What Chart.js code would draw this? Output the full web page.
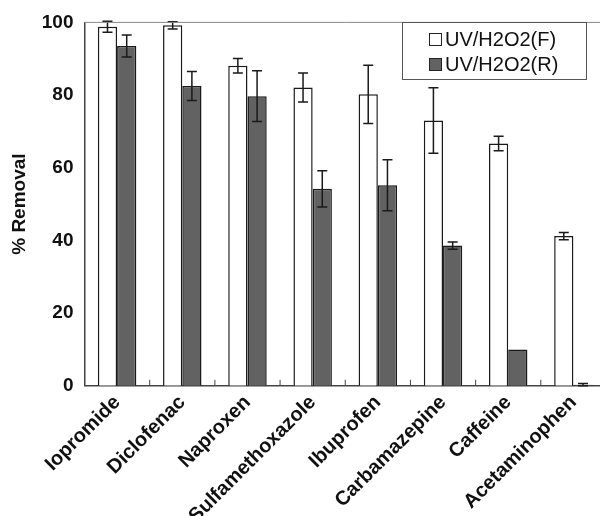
<!DOCTYPE html>
<html lang="en">
<head>
    <meta charset="UTF-8">
    <script src="https://cdn.jsdelivr.net/npm/chart.js"></script>
    <title>% Removal by UV/H2O2</title>
    <style>
        *{
            margin: 0;
            padding: 0;
        }
        body, html{
            width: 600px;
            height: 516px;
            background-color: white;
            overflow: hidden;
        }
        #wrap{
            width: 606px;
            height: 533px;
        }
    </style>
</head>
<body>
    <div id="wrap"><canvas id="chart"></canvas></div>
    <script>
        const compounds = ["Iopromide", "Diclofenac", "Naproxen", "Sulfamethoxazole", "Ibuprofen", "Carbamazepine", "Caffeine", "Acetaminophen"]
        const removalF = [98.8, 99.2, 88.1, 82.1, 80.2, 73.0, 66.7, 41.2]
        const errF = [1.5, 1.0, 2.0, 4.0, 8.0, 9.0, 2.0, 1.0]
        const removalR = [93.5, 82.5, 79.7, 54.2, 55.2, 38.6, 10.0, 0.3]
        const errR = [3.0, 4.0, 7.0, 5.0, 7.0, 1.0, 0, 0.3]
        const yTicks = [0, 20, 40, 60, 80, 100]

        const fontFam = "'Liberation Sans', Arial, sans-serif"

        // error bars, inward category ticks, top frame line and boxed legend
        const extras = {
            id: "extras",
            afterDatasetsDraw(chart){
                const ctx = chart.ctx
                const x = chart.scales.x
                const y = chart.scales.y
                const area = chart.chartArea
                ctx.save()
                ctx.strokeStyle = "#1a1a1a"
                ctx.lineWidth = 1.5
                const errs = [errF, errR]
                chart.data.datasets.forEach((ds, di)=>{
                    const meta = chart.getDatasetMeta(di)
                    meta.data.forEach((bar, i)=>{
                        const e = errs[di][i]
                        if (!e) return
                        const v = ds.data[i]
                        const top = y.getPixelForValue(v + e)
                        const bot = y.getPixelForValue(v - e)
                        const cx = bar.x
                        ctx.beginPath()
                        ctx.moveTo(cx, top); ctx.lineTo(cx, bot)
                        ctx.moveTo(cx - 5, top); ctx.lineTo(cx + 5, top)
                        ctx.moveTo(cx - 5, bot); ctx.lineTo(cx + 5, bot)
                        ctx.stroke()
                    })
                })
                // ticks between categories, pointing up
                ctx.strokeStyle = "#444"
                ctx.lineWidth = 1
                for (let i = 1; i < compounds.length; i++){
                    const bx = (x.getPixelForValue(i - 1) + x.getPixelForValue(i)) / 2
                    ctx.beginPath()
                    ctx.moveTo(bx, area.bottom); ctx.lineTo(bx, area.bottom - 6)
                    ctx.stroke()
                }
                // top frame line
                ctx.strokeStyle = "#888"
                ctx.beginPath()
                ctx.moveTo(area.left, area.top); ctx.lineTo(area.right, area.top)
                ctx.stroke()
                // legend box
                const lx = 402, ly = 22, lw = 184, lh = 57
                ctx.fillStyle = "white"
                ctx.fillRect(lx, ly, lw, lh)
                ctx.strokeStyle = "#555"
                ctx.lineWidth = 1
                ctx.strokeRect(lx + 0.5, ly + 0.5, lw, lh)
                ctx.font = "20px " + fontFam
                ctx.textBaseline = "middle"
                chart.data.datasets.forEach((ds, di)=>{
                    const cy = 39 + di * 25
                    ctx.fillStyle = ds.backgroundColor
                    ctx.fillRect(429, cy - 6, 12, 12)
                    ctx.strokeStyle = "#222"
                    ctx.strokeRect(429.5, cy - 5.5, 12, 12)
                    ctx.fillStyle = "#111"
                    ctx.fillText(ds.label, 445, cy + 1)
                })
                ctx.restore()
            }
        }

        const data = {
            labels: compounds,
            datasets: [{
                label: "UV/H2O2(F)",
                backgroundColor: "#ffffff",
                borderColor: "#1a1a1a",
                borderWidth: 1.5,
                data: removalF
            },
            {
                label: "UV/H2O2(R)",
                backgroundColor: "#626262",
                borderColor: "#1a1a1a",
                borderWidth: 1.5,
                data: removalR
            }]
        }

        const config = {
            type: "bar",
            data: data,
            plugins: [extras],
            options: {
                responsive: true,
                maintainAspectRatio: false,
                animation: false,
                categoryPercentage: 0.59,
                barPercentage: 1.0,
                layout: {padding: {left: 0, top: 14, right: 0, bottom: 0}},
                plugins: {
                    legend: {display: false},
                    tooltip: {enabled: false}
                },
                scales: {
                    x: {
                        grid: {display: false, tickLength: 0},
                        border: {display: true, color: "#444", width: 1.5},
                        ticks: {
                            color: "#111",
                            font: {family: fontFam, size: 20, weight: "bold"},
                            minRotation: 45,
                            maxRotation: 45,
                            padding: 5
                        }
                    },
                    y: {
                        min: 0,
                        max: 100,
                        afterBuildTicks: (axis)=>{ axis.ticks = yTicks.map(v=>({value: v})) },
                        grid: {display: false, tickLength: 0},
                        border: {display: true, color: "#444", width: 1.5},
                        ticks: {
                            color: "#111",
                            font: {family: fontFam, size: 19, weight: "bold"},
                            padding: 11
                        },
                        title: {
                            display: true,
                            text: "% Removal",
                            color: "#111",
                            font: {family: fontFam, size: 19, weight: "bold"},
                            padding: {top: 8, bottom: 0}
                        }
                    }
                }
            }
        }

        const chart = new Chart(document.getElementById("chart"), config)
    </script>
</body>
</html>
